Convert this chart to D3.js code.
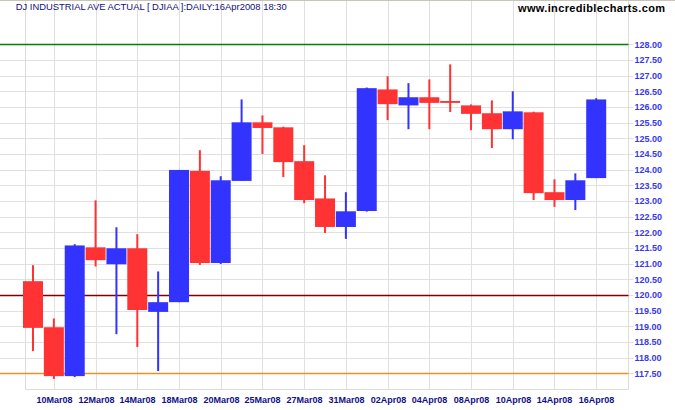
<!DOCTYPE html>
<html>
<head>
<meta charset="utf-8">
<script src="https://cdn.jsdelivr.net/npm/d3@7"></script>
<style>
html,body{margin:0;padding:0;background:#fff;}
svg{display:block;}
text{font-family:Arial,"Liberation Sans",sans-serif;}
</style>
</head>
<body>
<svg id="chart" width="675" height="410"></svg>
<script>
// ---- data ----
const dates = ["07Mar08","10Mar08","11Mar08","12Mar08","13Mar08","14Mar08","17Mar08","18Mar08","19Mar08","20Mar08",
  "24Mar08","25Mar08","26Mar08","27Mar08","28Mar08","31Mar08","01Apr08","02Apr08","03Apr08","04Apr08",
  "07Apr08","08Apr08","09Apr08","10Apr08","11Apr08","14Apr08","15Apr08","16Apr08"];
const open  = [120.44,118.97,117.41,121.52,120.98,121.49,119.46,119.77,123.96,121.02,
  123.64,125.51,125.35,124.27,123.08,122.17,122.68,126.56,126.05,126.31,
  126.19,126.05,125.80,125.29,125.83,123.28,123.03,123.73];
const high  = [120.95,119.25,121.62,123.02,122.16,121.94,120.75,123.99,124.62,123.79,
  126.24,125.73,125.37,124.78,123.82,123.28,126.62,126.98,126.76,126.88,
  127.36,126.08,126.21,126.50,125.85,123.69,123.88,126.28];
const low   = [118.21,117.32,117.38,120.91,118.75,118.34,117.57,119.77,120.96,120.99,
  123.64,124.50,123.76,122.93,121.98,121.79,122.66,125.58,125.29,125.29,
  125.84,125.26,124.69,124.97,123.03,122.81,122.71,123.73];
const close = [118.95,117.41,121.58,121.11,121.49,119.52,119.77,123.99,121.02,123.66,
  125.51,125.33,124.24,123.03,122.17,122.67,126.60,126.09,126.31,126.13,
  126.13,125.78,125.29,125.86,123.25,123.03,123.66,126.24];
const xTickLabels = ["10Mar08","12Mar08","14Mar08","18Mar08","20Mar08","25Mar08","27Mar08",
  "31Mar08","02Apr08","04Apr08","08Apr08","10Apr08","14Apr08","16Apr08"];
const yTickValues = [117.5,118,118.5,119,119.5,120,120.5,121,121.5,122,122.5,
  123,123.5,124,124.5,125,125.5,126,126.5,127,127.5,128];
const refValues = [128, 120, 117.5];
const refColors = ["#008000", "#800000", "#F09020"];
const titleText = "DJ INDUSTRIAL AVE ACTUAL [ DJIAA ]:DAILY:16Apr2008 18:30";
const siteText = "www.incrediblecharts.com";

// ---- layout ----
const svg = d3.select("#chart");
const plotLeft = 25.5, plotRight = 628.5, plotTop = 0, plotBottom = 389.5;
const x = d3.scalePoint().domain(dates).range([33, 596.2]);
const y = d3.scaleLinear().domain([117.5, 128]).range([373.3, 44.3]);
const crisp = v => Math.round(v) + 0.5;
const bodyW = 20, wickW = 2;

// gridlines (horizontal)
svg.append("g").selectAll("line").data(yTickValues).join("line")
  .attr("x1", 0).attr("x2", plotRight + 5)
  .attr("y1", d => crisp(y(d))).attr("y2", d => crisp(y(d)))
  .attr("stroke", "#E0E0E0").attr("stroke-width", 1);

// gridlines (vertical)
svg.append("g").selectAll("line").data(xTickLabels).join("line")
  .attr("x1", d => crisp(x(d))).attr("x2", d => crisp(x(d)))
  .attr("y1", plotTop).attr("y2", plotBottom)
  .attr("stroke", "#E0E0E0").attr("stroke-width", 1);

// borders
const border = svg.append("g").attr("stroke", "#DCDCDC").attr("stroke-width", 1).attr("fill", "none");
border.append("line").attr("x1", plotLeft).attr("x2", plotLeft).attr("y1", 0).attr("y2", plotBottom);
border.append("line").attr("x1", plotRight).attr("x2", plotRight).attr("y1", 0).attr("y2", plotBottom);
border.append("line").attr("x1", plotLeft).attr("x2", plotRight).attr("y1", plotBottom).attr("y2", plotBottom);
svg.append("line").attr("x1", 0).attr("x2", 675).attr("y1", 0.5).attr("y2", 0.5)
  .attr("stroke", "#C8C4B8").attr("stroke-width", 1);

// reference lines
svg.append("g").selectAll("line").data(refValues).join("line")
  .attr("x1", 0).attr("x2", plotRight)
  .attr("y1", d => crisp(y(d))).attr("y2", d => crisp(y(d)))
  .attr("stroke", (d, i) => refColors[i]).attr("stroke-width", 1.3);

// candles
const idx = d3.range(dates.length);
const col = i => close[i] >= open[i] ? "#3333FF" : "#FF3333";
const cg = svg.append("g");
cg.selectAll("rect.wick").data(idx).join("rect").attr("class", "wick")
  .attr("x", i => x(dates[i]) - wickW / 2)
  .attr("y", i => y(high[i]))
  .attr("width", wickW)
  .attr("height", i => Math.max(0, y(low[i]) - y(high[i])))
  .attr("fill", col);
cg.selectAll("rect.body").data(idx).join("rect").attr("class", "body")
  .attr("x", i => x(dates[i]) - bodyW / 2)
  .attr("y", i => y(Math.max(open[i], close[i])))
  .attr("width", bodyW)
  .attr("height", i => Math.max(1, Math.abs(y(open[i]) - y(close[i]))))
  .attr("fill", col);

// right axis labels
svg.append("g").selectAll("text").data(yTickValues).join("text")
  .attr("x", 634.5).attr("y", d => y(d) + 3.3)
  .attr("font-size", "9px").attr("font-weight", "bold")
  .attr("fill", "#3838F0")
  .text(d => d.toFixed(2));

// bottom axis labels
svg.append("g").selectAll("text").data(xTickLabels).join("text")
  .attr("x", d => crisp(x(d))).attr("y", 403)
  .attr("text-anchor", "middle")
  .attr("font-size", "9px").attr("font-weight", "bold")
  .attr("fill", "#10108A")
  .text(d => d);

// title & site
svg.append("text").attr("x", 15.7).attr("y", 10)
  .attr("font-size", "9.3px").attr("fill", "#10107A")
  .attr("textLength", 271).attr("lengthAdjust", "spacingAndGlyphs")
  .text(titleText);
svg.append("text").attr("x", 518).attr("y", 11.7)
  .attr("font-size", "11px").attr("font-weight", "bold").attr("fill", "#000")
  .attr("textLength", 147).attr("lengthAdjust", "spacing")
  .text(siteText);
</script>
</body>
</html>
